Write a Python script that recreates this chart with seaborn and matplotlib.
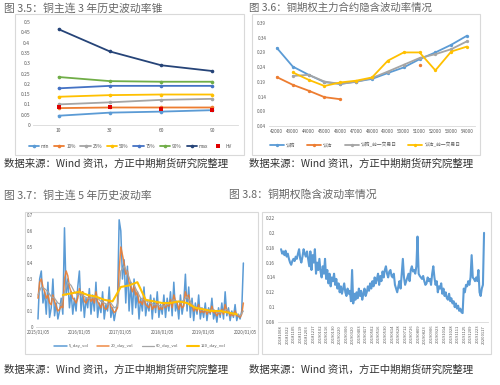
import numpy as np
import pandas as pd
import matplotlib
matplotlib.use("Agg")
import matplotlib.pyplot as plt
from matplotlib.patches import Rectangle
import seaborn as sns

# ---- 图3.5 data: volatility cone
windows = ["10", "30", "60", "90"]
cone_min = [0.045, 0.060, 0.065, 0.072]
cone_p10 = [0.082, 0.085, 0.085, 0.085]
cone_p25 = [0.100, 0.110, 0.122, 0.127]
cone_p50 = [0.137, 0.145, 0.148, 0.148]
cone_p75 = [0.178, 0.190, 0.190, 0.190]
cone_p90 = [0.233, 0.213, 0.210, 0.210]
cone_max = [0.465, 0.357, 0.290, 0.262]
cone_hv = [0.085, 0.085, 0.080, 0.075]

# ---- 图3.6 data: implied vol by strike
strikes = ["42000", "43000", "44000", "45000", "46000", "47000", "48000",
           "49000", "50000", "51000", "52000", "53000", "54000"]
call_iv = [0.305, 0.242, 0.214, 0.189, 0.183, 0.191, 0.200, 0.220, 0.239,
           0.267, 0.290, 0.316, 0.347]
put_iv = [0.206, 0.180, 0.160, 0.138, 0.131, None, None, None, None, 0.248,
          None, None, None]
call_iv_prev = [None, 0.210, 0.214, 0.191, 0.183, 0.190, 0.203, 0.225, 0.248,
                0.271, 0.284, 0.301, 0.328]
put_iv_prev = [None, 0.222, 0.197, 0.176, 0.188, 0.194, 0.205, 0.262, 0.290,
               0.290, 0.229, 0.293, 0.310]

# ---- 图3.7 data: 5 year historical vol (about weekly samples)
hv_dates = ["2015/01/05", "2016/01/05", "2017/01/05", "2018/01/05",
            "2019/01/05", "2020/01/05"]
vol_5 = [0.05, 0.30, 0.35, 0.15, 0.22, 0.08, 0.28, 0.06, 0.12, 0.30, 0.07, 0.15, 0.05,
         0.10, 0.18, 0.08, 0.62, 0.20, 0.30, 0.12, 0.22, 0.08, 0.18, 0.10, 0.25,
         0.35, 0.10, 0.22, 0.06, 0.18, 0.12, 0.24, 0.08, 0.20, 0.10, 0.28, 0.06, 0.15,
         0.09, 0.22, 0.05, 0.14, 0.10, 0.25, 0.06, 0.12, 0.04, 0.10, 0.15, 0.67,
         0.60, 0.30, 0.42, 0.15, 0.38, 0.10, 0.28, 0.08, 0.30, 0.12, 0.22, 0.05, 0.18,
         0.10, 0.25, 0.07, 0.15, 0.10, 0.20, 0.05, 0.18, 0.09, 0.22, 0.06, 0.14,
         0.08, 0.20, 0.06, 0.18, 0.10, 0.22, 0.07, 0.28, 0.10, 0.15, 0.05, 0.20, 0.08,
         0.15, 0.33, 0.10, 0.25, 0.06, 0.18, 0.04, 0.15, 0.08, 0.20, 0.05, 0.12,
         0.06, 0.15, 0.04, 0.12, 0.08, 0.18, 0.05, 0.10, 0.03, 0.12, 0.06, 0.15, 0.05,
         0.22, 0.07, 0.12, 0.04, 0.10, 0.06, 0.14, 0.04, 0.08, 0.05, 0.10, 0.40]
vol_20 = [0.18, 0.28, 0.30, 0.25, 0.22, 0.18, 0.20, 0.15, 0.14, 0.20, 0.16, 0.13, 0.10,
          0.11, 0.13, 0.12, 0.30, 0.35, 0.32, 0.25, 0.22, 0.18, 0.17, 0.15, 0.18,
          0.24, 0.20, 0.22, 0.16, 0.15, 0.17, 0.20, 0.16, 0.18, 0.15, 0.22, 0.16, 0.14,
          0.12, 0.16, 0.12, 0.11, 0.12, 0.17, 0.13, 0.11, 0.09, 0.10, 0.12, 0.35,
          0.50, 0.45, 0.40, 0.33, 0.35, 0.28, 0.25, 0.22, 0.26, 0.20, 0.22, 0.15, 0.16,
          0.14, 0.19, 0.14, 0.13, 0.12, 0.16, 0.11, 0.13, 0.12, 0.16, 0.11, 0.12,
          0.11, 0.15, 0.12, 0.14, 0.13, 0.17, 0.12, 0.20, 0.16, 0.15, 0.11, 0.15, 0.12,
          0.13, 0.22, 0.18, 0.20, 0.13, 0.14, 0.10, 0.12, 0.10, 0.14, 0.09, 0.10,
          0.09, 0.11, 0.08, 0.10, 0.09, 0.13, 0.09, 0.09, 0.07, 0.09, 0.08, 0.11, 0.08,
          0.14, 0.10, 0.10, 0.07, 0.08, 0.07, 0.10, 0.07, 0.07, 0.06, 0.08, 0.15]
vol_60 = [0.20, 0.25, 0.24, 0.22, 0.19, 0.18, 0.15, 0.14, 0.22, 0.28, 0.26, 0.22, 0.20,
          0.21, 0.19, 0.18, 0.18, 0.19, 0.18, 0.16, 0.15, 0.14, 0.15, 0.12, 0.13,
          0.35, 0.38, 0.34, 0.28, 0.26, 0.22, 0.18, 0.17, 0.16, 0.15, 0.14, 0.14,
          0.13, 0.13, 0.14, 0.15, 0.17, 0.16, 0.15, 0.17, 0.19, 0.16, 0.13, 0.12,
          0.12, 0.11, 0.10, 0.10, 0.11, 0.09, 0.09, 0.10, 0.11, 0.09, 0.08, 0.08,
          0.07, 0.10]
vol_120 = [0.20, 0.21, 0.22, 0.20, 0.19, 0.17, 0.16, 0.25, 0.26, 0.28, 0.17, 0.16,
           0.15, 0.15, 0.16, 0.15, 0.12, 0.11, 0.10, 0.10, 0.09, 0.08]

# ---- 图3.8 data: option implied vol
iv_dates = ["20181008", "20181022", "20181105", "20181119", "20181203", "20181217",
            "20190102", "20190116", "20190130", "20190220", "20190306", "20190320",
            "20190403", "20190417", "20190502", "20190516", "20190530", "20190614",
            "20190628", "20190712", "20190726", "20190809", "20190823", "20190906",
            "20190923", "20191014", "20191028", "20191111", "20191125", "20191209",
            "20191223", "20200117"]
iv_series = [0.178, 0.172, 0.175, 0.170, 0.176, 0.168, 0.172, 0.165, 0.160, 0.157,
             0.162, 0.165, 0.162, 0.168, 0.165, 0.172, 0.178, 0.165, 0.160, 0.168,
             0.178, 0.172, 0.168, 0.175,
             0.165, 0.155, 0.175, 0.150, 0.170, 0.160, 0.178, 0.145, 0.160, 0.150,
             0.165, 0.148, 0.140, 0.155, 0.145, 0.165, 0.138, 0.150, 0.132, 0.145,
             0.128, 0.140,
             0.135, 0.145, 0.130, 0.138, 0.125, 0.132, 0.120, 0.128, 0.118, 0.125,
             0.132, 0.120, 0.115, 0.125, 0.118, 0.122, 0.108, 0.150, 0.105, 0.118, 0.110,
             0.120, 0.112, 0.125, 0.115, 0.122, 0.110, 0.118, 0.125, 0.115, 0.120,
             0.128, 0.122, 0.132, 0.125, 0.135, 0.128, 0.140, 0.132, 0.138, 0.145,
             0.130, 0.142, 0.135, 0.148,
             0.140, 0.150, 0.155, 0.145, 0.140, 0.148, 0.150, 0.142, 0.140, 0.145,
             0.130, 0.125, 0.120, 0.128, 0.135, 0.125, 0.145, 0.165,
             0.140, 0.130, 0.135, 0.140, 0.145, 0.135, 0.150, 0.155, 0.148, 0.150,
             0.145, 0.155, 0.195, 0.145, 0.142, 0.140, 0.138, 0.142,
             0.135, 0.130, 0.132, 0.140, 0.135, 0.138, 0.130, 0.145, 0.155, 0.140,
             0.130, 0.135, 0.120, 0.128, 0.125, 0.132, 0.118, 0.125, 0.115, 0.120,
             0.112, 0.110, 0.118, 0.108, 0.112, 0.105, 0.108, 0.100, 0.105, 0.098,
             0.102, 0.095, 0.098, 0.093, 0.092,
             0.125, 0.120, 0.130, 0.128, 0.135, 0.130, 0.140, 0.170, 0.140, 0.138,
             0.135, 0.140, 0.135, 0.150, 0.120, 0.115, 0.125, 0.130, 0.200]

sns.set_style("white")
plt.rcParams['font.family'] = ['Noto Sans CJK SC', 'DejaVu Sans']

W, H = 500, 385
fig = plt.figure(figsize=(5, 3.85), dpi=100)
fig.patch.set_facecolor("white")

TICK = "#595959"
AXLINE = "#D9D9D9"


def px_axes(l, t, r, b):
    return fig.add_axes([l / W, 1 - b / H, (r - l) / W, (b - t) / H])


def box(l, t, r, b):
    fig.add_artist(Rectangle((l / W, 1 - b / H), (r - l) / W, (b - t) / H,
                             transform=fig.transFigure, fill=False,
                             ec=AXLINE, lw=0.8))


def style_axes(ax, fs=3.6):
    for s in ["left", "right", "top"]:
        ax.spines[s].set_visible(False)
    ax.spines["bottom"].set_color(AXLINE)
    ax.spines["bottom"].set_linewidth(0.6)
    ax.tick_params(length=0, labelsize=fs, colors=TICK, pad=2)
    ax.set_xlabel("")
    ax.set_ylabel("")


def txt(x, y, s, color, fs=7.6):
    fig.text(x / W, 1 - y / H, s, fontsize=fs, color=color, va="center", ha="left")


# titles and sources
txt(4, 8, "图 3.5：铜主连 3 年历史波动率锥", "#666666", 7.8)
txt(249, 8, "图 3.6：铜期权主力合约隐含波动率情况", "#666666", 7.5)
txt(4, 195, "图 3.7：铜主连 5 年历史波动率", "#666666", 7.8)
txt(229, 195, "图 3.8：铜期权隐含波动率情况", "#666666", 7.8)
for x, y in [(4, 164), (249, 164), (4, 370), (249, 370)]:
    txt(x, y, "数据来源：Wind 资讯，方正中期期货研究院整理", "#333333", 7.5)

box(15, 14, 244, 155)
box(252, 14, 480, 155)
box(25, 212, 258, 354)
box(262, 212, 491, 354)

# ---- panel 1
ax1 = px_axes(33, 22, 238, 125)
pos1 = np.arange(len(windows))
cone = [("min", cone_min, "#5B9BD5"), ("10%", cone_p10, "#ED7D31"),
        ("25%", cone_p25, "#A5A5A5"), ("50%", cone_p50, "#FFC000"),
        ("75%", cone_p75, "#4472C4"), ("90%", cone_p90, "#70AD47"),
        ("max", cone_max, "#264478")]
for name, vals, c in cone:
    sns.lineplot(x=pos1, y=vals, ax=ax1, color=c, lw=1.3, marker="o",
                 markersize=2.6, markeredgewidth=0, label=name)
sns.scatterplot(x=pos1, y=cone_hv, ax=ax1, color="#E00000", marker="s", s=5,
                linewidth=0, label="HV", zorder=5)
ax1.set_xlim(-0.5, len(windows) - 0.5)
ax1.set_ylim(0, 0.5)
ax1.set_xticks(pos1, windows)
yt1 = np.round(np.arange(0, 0.501, 0.05), 2)
ax1.set_yticks(yt1, ["0", "0.05", "0.1", "0.15", "0.2", "0.25", "0.3", "0.35",
                     "0.4", "0.45", "0.5"])
style_axes(ax1)
ax1.legend(loc="center", bbox_to_anchor=(130 / W, 1 - 146 / H),
           bbox_transform=fig.transFigure, ncol=8, frameon=False, fontsize=3.4,
           handlelength=2.2, columnspacing=1.0, handletextpad=0.4, labelcolor=TICK)

# ---- panel 2
ax2 = px_axes(269, 23, 475, 126)
pos2 = np.arange(len(strikes))
df2 = pd.DataFrame({"pos": pos2, "call": call_iv, "put": put_iv,
                    "call_prev": call_iv_prev, "put_prev": put_iv_prev},
                   dtype=float)
sns.lineplot(data=df2, x="pos", y="call", ax=ax2, color="#5B9BD5", lw=1.3,
             marker="o", markersize=2.4, markeredgewidth=0, label="认购")
p = df2.iloc[:5]
sns.lineplot(data=p, x="pos", y="put", ax=ax2, color="#ED7D31", lw=1.3,
             marker="o", markersize=2.4, markeredgewidth=0, label="认沽")
sns.scatterplot(data=df2.iloc[9:10], x="pos", y="put", ax=ax2, color="#ED7D31",
                s=6, linewidth=0, legend=False)
cp = df2.dropna(subset=["call_prev"])
sns.lineplot(data=cp, x="pos", y="call_prev", ax=ax2, color="#A5A5A5", lw=1.3,
             marker="o", markersize=2.4, markeredgewidth=0, label="认购_前一交易日")
pp = df2.dropna(subset=["put_prev"])
sns.lineplot(data=pp, x="pos", y="put_prev", ax=ax2, color="#FFC000", lw=1.3,
             marker="o", markersize=2.4, markeredgewidth=0, label="认沽_前一交易日")
ax2.set_xlim(-0.5, len(strikes) - 0.5)
ax2.set_ylim(0.04, 0.39)
ax2.set_xticks(pos2, strikes)
yt2 = np.round(np.arange(0.04, 0.391, 0.05), 2)
ax2.set_yticks(yt2, [f"{v:.2f}" for v in yt2])
style_axes(ax2, fs=3.3)
ax2.legend(loc="center", bbox_to_anchor=(365 / W, 1 - 145 / H),
           bbox_transform=fig.transFigure, ncol=4, frameon=False, fontsize=3.4,
           handlelength=3.0, columnspacing=2.5, handletextpad=0.4, labelcolor=TICK)

# ---- panel 3
ax3 = px_axes(36, 215, 250, 327)
x5 = np.arange(len(vol_5))
x60 = np.arange(0, len(vol_5), 2)
x120 = np.arange(15, 121, 5)
sns.lineplot(x=x5, y=vol_5, ax=ax3, color="#5B9BD5", lw=1.1, label="5_day_vol")
sns.lineplot(x=x5, y=vol_20, ax=ax3, color="#ED7D31", lw=1.1, alpha=0.9,
             label="20_day_vol")
sns.lineplot(x=x60, y=vol_60, ax=ax3, color="#A5A5A5", lw=0.9, label="60_day_vol")
sns.lineplot(x=x120, y=vol_120, ax=ax3, color="#FFC000", lw=1.5,
             label="120_day_vol")
ax3.set_xlim(-1.2, 128)
ax3.set_ylim(0, 0.7)
ax3.set_xticks(np.arange(0, 126, 25), hv_dates)
ax3.set_yticks(np.round(np.arange(0, 0.71, 0.1), 1),
               ["0", "0.1", "0.2", "0.3", "0.4", "0.5", "0.6", "0.7"])
style_axes(ax3, fs=3.2)
ax3.legend(loc="center", bbox_to_anchor=(140 / W, 1 - 346 / H),
           bbox_transform=fig.transFigure, ncol=4, frameon=False, fontsize=3.0,
           handlelength=3.0, columnspacing=2.0, handletextpad=0.4, labelcolor=TICK)

# ---- panel 4
ax4 = px_axes(278, 218, 488, 322)
xi = np.arange(len(iv_series))
sns.lineplot(x=xi, y=iv_series, ax=ax4, color="#5B9BD5", lw=1.5)
ax4.set_xlim(-2.7, len(iv_series) + 2.5)
ax4.set_ylim(0.08, 0.22)
ax4.set_xticks(np.linspace(0, len(iv_series) - 1, len(iv_dates)), iv_dates,
               rotation=90)
yt4 = np.round(np.arange(0.08, 0.221, 0.02), 2)
ax4.set_yticks(yt4, ["0.08", "0.1", "0.12", "0.14", "0.16", "0.18", "0.2", "0.22"])
style_axes(ax4, fs=3.3)
ax4.tick_params(axis="x", labelsize=3.0)

fig.savefig("out.png", dpi=100)
